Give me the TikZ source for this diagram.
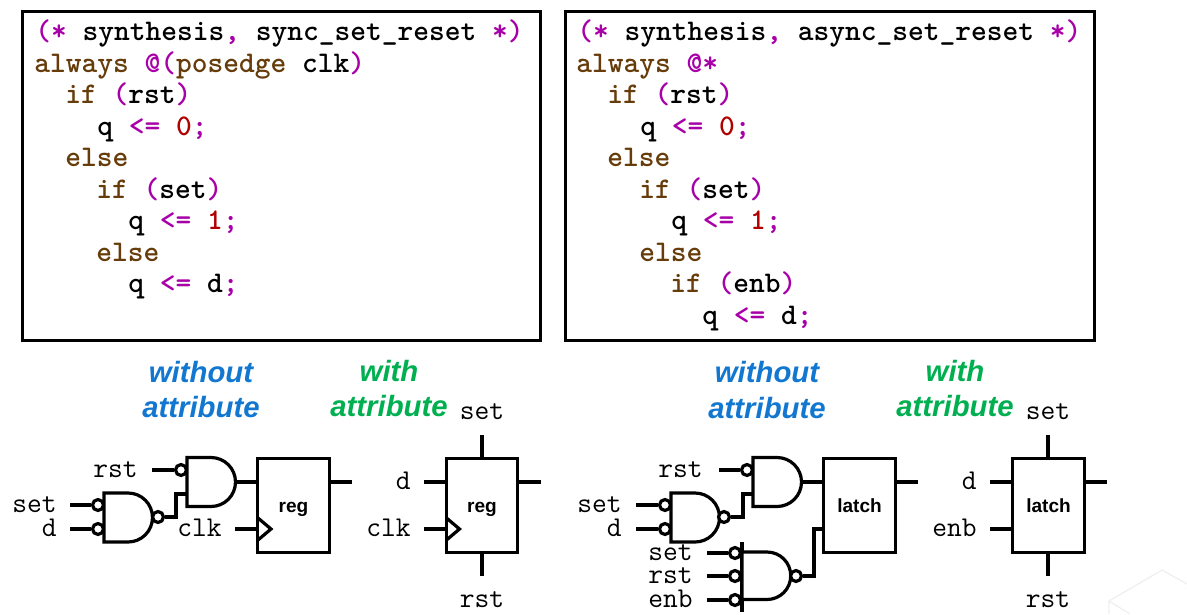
\documentclass[tikz,border=0pt]{standalone}
\usepackage{fontspec}
\setmainfont{Liberation Sans}
\setsansfont{Liberation Sans}
\usepackage{tikz}
\definecolor{kwcolor}{HTML}{663C0A}
\definecolor{opcolor}{HTML}{A800A8}
\definecolor{numcolor}{HTML}{B00000}
\definecolor{withoutcolor}{HTML}{1177D0}
\definecolor{withcolor}{HTML}{00AF50}
\newcommand{\kw}[1]{\textcolor{kwcolor}{#1}}
\newcommand{\op}[1]{\textcolor{opcolor}{#1}}
\newcommand{\num}[1]{\textcolor{numcolor}{#1}}
% body of a gate: left edge, top edge, straight part, height
\newcommand{\gatebody}[4]{\draw[wire,fill=white] (#1,#2) -- ++(#3,0) arc[start angle=90,end angle=-90,radius=#4*0.375pt] -- ++(-#3,0) -- cycle;}
\tikzset{
  wire/.style={line width=2.4pt,black},
  bubble/.style={circle,draw,fill=white,line width=2.4pt,inner sep=0pt,minimum size=8.2pt},
  codebox/.style={draw,line width=2.1pt,inner sep=0pt},
  codeline/.style={anchor=base west,inner sep=0pt,yshift=-0.75pt,font=\ttfamily\bfseries\fontsize{22.5}{26}\selectfont\addfontfeatures{FakeBold=2}},
  blockbox/.style={draw,line width=2.4pt,inner sep=0pt,minimum width=53.5pt,minimum height=71pt,text height=11pt,text depth=0pt,font=\sffamily\bfseries\fontsize{14.3}{17}\selectfont},
  pinname/.style={inner sep=0pt,text height=11pt,text depth=0pt,font=\ttfamily\fontsize{21.5}{24}\selectfont},
  withoutlab/.style={inner sep=0pt,align=center,text=withoutcolor,font=\sffamily\bfseries\itshape\fontsize{22}{26.3}\selectfont},
  withlab/.style={inner sep=0pt,align=center,text=withcolor,font=\sffamily\bfseries\itshape\fontsize{22}{26.3}\selectfont},
}
\begin{document}
\begin{tikzpicture}[x=0.75pt,y=-0.75pt]
  \useasboundingbox (0,0) rectangle (1187,614);
  % faint mark in the corner
  \draw[black!6,line width=1pt] (1187,584) -- (1162,570) -- (1109,601) -- (1109,614);
  \draw[black!6,line width=1pt] (1109,601) -- (1130,614);
  % code frames
  \node[codebox,minimum width=388.5pt,minimum height=247pt] (leftcode) at (281.5,176) {};
  \node[codebox,minimum width=397pt,minimum height=247pt] (rightcode) at (830,176) {};
  % left code
  \node[codeline] (la) at (35,39) {\op{(*} synthesis\op{,} sync\_set\_reset \op{*)}};
  \node[codeline] (lb) at (34,71) {\kw{always} \op{@(}\kw{posedge} clk\op{)}};
  \node[codeline] (lc) at (65,102) {\kw{if} \op{(}rst\op{)}};
  \node[codeline] (ld) at (97,134) {q \op{<=} \num{0}\op{;}};
  \node[codeline] (le) at (65,165) {\kw{else}};
  \node[codeline] (lf) at (96,197) {\kw{if} \op{(}set\op{)}};
  \node[codeline] (lg) at (128,228) {q \op{<=} \num{1}\op{;}};
  \node[codeline] (lh) at (96,260) {\kw{else}};
  \node[codeline] (li) at (128,291) {q \op{<=} d\op{;}};
  % right code
  \node[codeline] (ra) at (577,39) {\op{(*} synthesis\op{,} async\_set\_reset \op{*)}};
  \node[codeline] (rb) at (576,71) {\kw{always} \op{@*}};
  \node[codeline] (rc) at (607,102) {\kw{if} \op{(}rst\op{)}};
  \node[codeline] (rd) at (640,134) {q \op{<=} \num{0}\op{;}};
  \node[codeline] (re) at (607,165) {\kw{else}};
  \node[codeline] (rf) at (639,197) {\kw{if} \op{(}set\op{)}};
  \node[codeline] (rg) at (671,228) {q \op{<=} \num{1}\op{;}};
  \node[codeline] (rh) at (639,260) {\kw{else}};
  \node[codeline] (ri) at (670,291) {\kw{if} \op{(}enb\op{)}};
  \node[codeline] (rj) at (702,323) {q \op{<=} d\op{;}};
  % headings
  \node[withoutlab] (lwithout) at (201,389.5) {without\\attribute};
  \node[withlab] (lwith) at (389,388.5) {with\\attribute};
  \node[withoutlab] (rwithout) at (767,390) {without\\attribute};
  \node[withlab] (rwith) at (955,388.5) {with\\attribute};
  % reg without attribute
  \node[blockbox] (rega) at (293.5,505.5) {reg};
  \gatebody{187}{457.5}{24}{49}
  \gatebody{104}{493}{24}{49}
  \node[bubble] (rstbub) at (181,470) {};
  \node[bubble] (setbub) at (98,505) {};
  \node[bubble] (dbub) at (98,529) {};
  \node[bubble] (nandbub) at (158,517) {};
  \coordinate (andtip) at (235.5,482);
  \coordinate (andlow) at (187,494);
  \coordinate (rstin) at (152,470);
  \coordinate (setin) at (70,505);
  \coordinate (din) at (70,529);
  \coordinate (clkin) at (235,529);
  \coordinate (regaout) at (352,482);
  \draw[wire] (rstin) -- (rstbub);
  \draw[wire] (setin) -- (setbub);
  \draw[wire] (din) -- (dbub);
  \draw[wire] (nandbub.east) -- ++(11,0) |- (andlow);
  \draw[wire] (andtip) -- (andtip -| rega.west);
  \draw[wire] (clkin) -- (clkin -| rega.west);
  \draw[wire] (rega.east |- regaout) -- (regaout);
  \draw[wire] (258,518) -- (271,529) -- (258,540);
  \node[pinname,anchor=east] (rstname) at (138,470) {rst};
  \node[pinname,anchor=east] (setname) at (57,505) {set};
  \node[pinname,anchor=east] (dname) at (57,529) {d};
  \node[pinname,anchor=east] (clkname) at (222,529) {clk};
  % reg with attribute
  \node[blockbox] (regb) at (482,505.5) {reg};
  \coordinate (regbset) at (482,435);
  \coordinate (regbrst) at (482,576);
  \coordinate (regbd) at (424,482);
  \coordinate (regbclk) at (424,529);
  \coordinate (regbout) at (541,482);
  \draw[wire] (regbset) -- (regb.north);
  \draw[wire] (regb.south) -- (regbrst);
  \draw[wire] (regbd) -- (regbd -| regb.west);
  \draw[wire] (regbclk) -- (regbclk -| regb.west);
  \draw[wire] (regb.east |- regbout) -- (regbout);
  \draw[wire] (446.5,518) -- (459.5,529) -- (446.5,540);
  \node[pinname] (regbsetname) at (482,412) {set};
  \node[pinname] (regbrstname) at (482,600) {rst};
  \node[pinname,anchor=east] (regbdname) at (411,482) {d};
  \node[pinname,anchor=east] (regbclkname) at (411,529) {clk};
  % latch without attribute
  \node[blockbox] (latcha) at (859.5,505.5) {latch};
  \draw[wire] (742,542) -- (742,612);
  \gatebody{753}{457.5}{24}{49}
  \gatebody{671}{493}{24}{49}
  \gatebody{742}{552}{25}{47.5}
  \node[bubble] (lrstbub) at (747,470) {};
  \node[bubble] (lsetbub) at (665,505) {};
  \node[bubble] (ldbub) at (665,529) {};
  \node[bubble] (lnandbub) at (724,517) {};
  \node[bubble] (gsetbub) at (735,553) {};
  \node[bubble] (grstbub) at (735,576) {};
  \node[bubble] (genbbub) at (735,600) {};
  \node[bubble] (gnandbub) at (796,576) {};
  \coordinate (landtip) at (801.5,482);
  \coordinate (landlow) at (753,494);
  \coordinate (lrstin) at (719,470);
  \coordinate (lsetin) at (636,505);
  \coordinate (ldin) at (636,529);
  \coordinate (gsetin) at (707,553);
  \coordinate (grstin) at (707,576);
  \coordinate (genbin) at (707,600);
  \coordinate (latchenb) at (824,529);
  \coordinate (latchaout) at (918,482);
  \draw[wire] (lrstin) -- (lrstbub);
  \draw[wire] (lsetin) -- (lsetbub);
  \draw[wire] (ldin) -- (ldbub);
  \draw[wire] (gsetin) -- (gsetbub);
  \draw[wire] (grstin) -- (grstbub);
  \draw[wire] (genbin) -- (genbbub);
  \draw[wire] (lnandbub.east) -- ++(12,0) |- (landlow);
  \draw[wire] (landtip) -- (landtip -| latcha.west);
  \draw[wire] (gnandbub.east) -- ++(11,0) |- (latchenb);
  \draw[wire] (latcha.east |- latchaout) -- (latchaout);
  \node[pinname,anchor=east] (lrstname) at (703,470) {rst};
  \node[pinname,anchor=east] (lsetname) at (622,505) {set};
  \node[pinname,anchor=east] (ldname) at (622,529) {d};
  \node[pinname,anchor=east] (gsetname) at (693,553) {set};
  \node[pinname,anchor=east] (grstname) at (693,576) {rst};
  \node[pinname,anchor=east] (genbname) at (693,600) {enb};
  % latch with attribute
  \node[blockbox] (latchb) at (1048.5,505.5) {latch};
  \coordinate (latchbset) at (1048,435);
  \coordinate (latchbrst) at (1048,576);
  \coordinate (latchbd) at (990,482);
  \coordinate (latchbenb) at (990,529);
  \coordinate (latchbout) at (1107,482);
  \draw[wire] (latchbset) -- (latchbset |- latchb.north);
  \draw[wire] (latchbrst |- latchb.south) -- (latchbrst);
  \draw[wire] (latchbd) -- (latchbd -| latchb.west);
  \draw[wire] (latchbenb) -- (latchbenb -| latchb.west);
  \draw[wire] (latchb.east |- latchbout) -- (latchbout);
  \node[pinname] (latchbsetname) at (1048,412) {set};
  \node[pinname] (latchbrstname) at (1048,600) {rst};
  \node[pinname,anchor=east] (latchbdname) at (977,482) {d};
  \node[pinname,anchor=east] (latchbenbname) at (977,529) {enb};
\end{tikzpicture}
\end{document}
